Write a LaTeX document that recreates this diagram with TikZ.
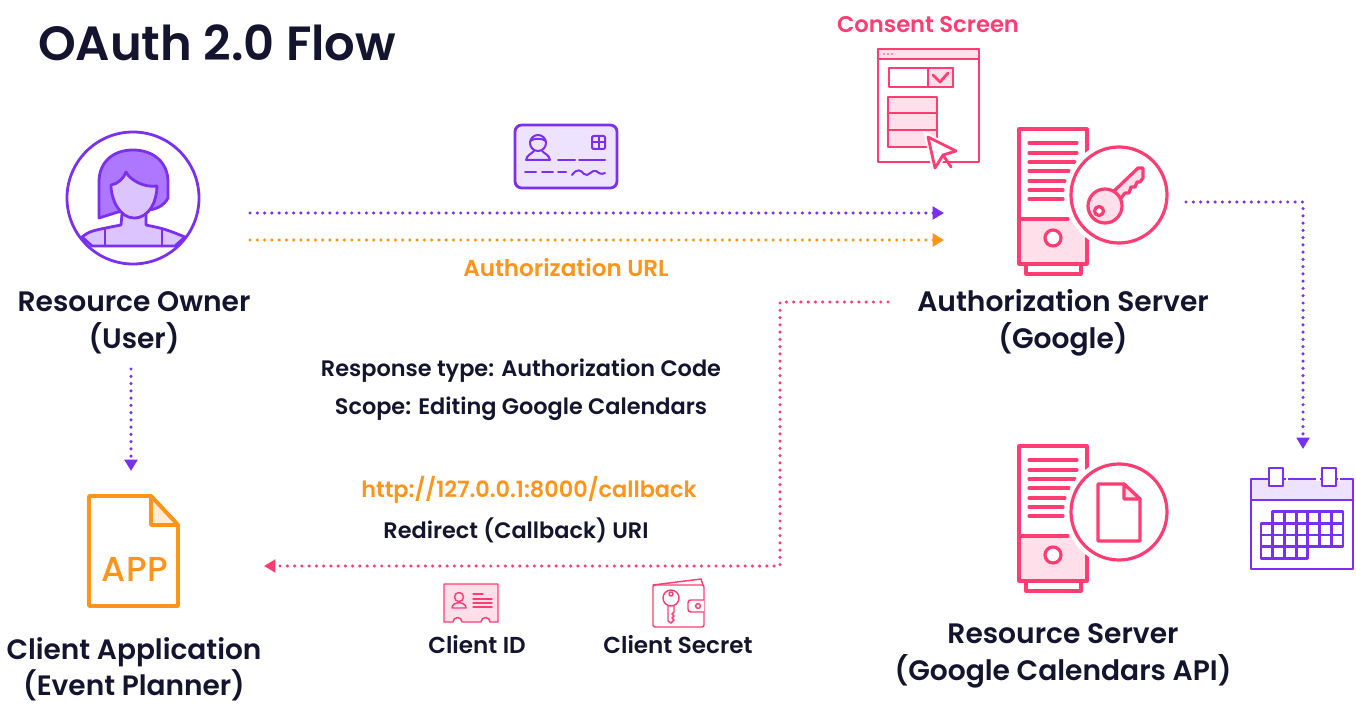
\documentclass[tikz,border=0pt]{standalone}
\usepackage{fontspec}
\setmainfont{Poppins SemiBold}
\newfontfamily\titlefont{Poppins SemiBold}
\newfontfamily\appfont{Poppins Medium}
\usetikzlibrary{arrows.meta}
\definecolor{inkdark}{HTML}{14142E}
\definecolor{purp}{HTML}{7B2FF2}
\definecolor{purphair}{HTML}{AD77FF}
\definecolor{purpskin}{HTML}{DCC5FF}
\definecolor{purppale}{HTML}{EEE3FF}
\definecolor{pinky}{HTML}{FF3D73}
\definecolor{pinkpale}{HTML}{FFE0EA}
\definecolor{orang}{HTML}{FF9419}
\definecolor{orangpale}{HTML}{FFEBD6}
\tikzset{
	big/.style={font=\fontsize{21.1}{28}\selectfont, text=inkdark, align=center},
	small/.style={font=\fontsize{16.8}{20}\selectfont, text=inkdark},
	smallish/.style={font=\fontsize{17.3}{20}\selectfont, text=inkdark},
	flowline/.style={line width=2.6pt, line cap=round, dash pattern=on 0pt off 5.45pt,
		-{Triangle[length=8.5pt,width=9.5pt]}},
	iconpur/.style={draw=purp, line width=2.1pt, line join=round, line cap=round},
	iconpin/.style={draw=pinky, line width=2.4pt, line join=round, line cap=round},
	iconwin/.style={draw=pinky, line width=2.1pt, line join=round, line cap=round},
	iconthin/.style={draw=pinky, line width=1.1pt, line join=round, line cap=round},
	srvbody/.pic={
		\fill [white] (0,0) rectangle (68,135);
		\fill [pinkpale] (0,90) rectangle (68,135);
		\draw [iconpin] (7,135) rectangle (62,145);
		\draw [iconpin] (0,0) rectangle (68,135);
		\draw [iconpin] (0,90) -- (49,90);
		\draw [iconpin, fill=white] (34,109) circle (8);
		\foreach \y/\e in {14/58,24/58,33/56,42/50,52/46,61/44,70/44}
			\draw [iconpin] (10,\y) -- (\e,\y);
		\fill [white] (100,66) circle (54);
		\draw [iconpin, fill=white] (100,66) circle (48);
	},
}
\begin{document}
\begin{tikzpicture}[x=0.75pt,y=-0.75pt]
	\useasboundingbox (0,0) rectangle (1356,706);
	\node (title) at (217,43) [font=\titlefont\fontsize{36}{40}\selectfont, text=inkdark] {OAuth 2.0 Flow};

	% resource owner
	\draw [iconpur, fill=purpskin] (82,237) .. controls (90,231) .. (121,225) -- (122,214) -- (146,214)
		-- (146,225) .. controls (165,229) .. (185,237) -- (175,246) -- (92,246) -- cycle;
	\draw [iconpur] (105,229) -- (105,246) (162,229) -- (162,246);
	\draw [iconpur, fill=purphair] (99,218) -- (99,182) .. controls (99,162) and (113,150) .. (133,150)
		.. controls (153,150) and (168,162) .. (168,182) -- (168,198)
		.. controls (164,206) and (155,210) .. (147,210) -- (118,212) -- cycle;
	\draw [iconpur, fill=purpskin] (111,185) .. controls (118,184) and (124,178) .. (126,172)
		.. controls (130,180) and (144,188) .. (157,186) .. controls (157,200) and (150,218) .. (134,218)
		.. controls (120,218) and (111,200) .. (111,185) -- cycle;
	\node (ownericon) at (133,198) [circle, minimum size=132*0.75pt, draw=purp, line width=2.1pt] {};
	\node (owner) at (134,322.5) [big] {Resource Owner\\(User)};

	% card
	\draw [iconpur, fill=purppale, rounded corners=5pt] (515,125) rectangle (617,188);
	\draw [iconpur, line width=1.5pt] (538,143) circle (8) (530,141) .. controls (534,138) and (542,138) .. (546,141);
	\draw [iconpur, line width=1.5pt] (526,160) .. controls (527,155) and (531,154) .. (534,151) (550,160) .. controls (549,155) and (545,154) .. (542,151) (526,160) -- (550,160);
	\draw [iconpur, line width=1.5pt] (558,160) -- (575,160) (579,160) -- (605,160);
	\draw [iconpur, line width=1.5pt, rounded corners=1pt] (592,136) rectangle (605,149);
	\draw [iconpur, line width=1.5pt] (598.5,136) -- (598.5,149) (592,142.5) -- (605,142.5);
	\foreach \a/\b in {525/536,542/553,558/566}
		\draw [iconpur, line width=1.5pt] (\a,172.5) -- (\b,172.5);
	\draw [iconpur, line width=1.5pt] (572,175) .. controls (577,168) and (581,170) .. (584,174)
		.. controls (588,178) and (592,169) .. (596,171) .. controls (599,173) and (601,175) .. (605,173);

	% consent screen
	\node (consent) at (928,25) [font=\fontsize{17}{20}\selectfont, text=pinky] {Consent Screen};
	\draw [iconwin] (878,49) rectangle (979,162);
	\draw [iconwin, fill=pinkpale] (878,49) rectangle (979,59);
	\foreach \x in {884,888,892}
		\fill [pinky] (\x,54) circle (0.8);
	\draw [iconwin] (889,68) rectangle (953,87);
	\draw [iconwin, fill=pinkpale] (928,68) rectangle (953,87);
	\draw [iconwin] (933,75) -- (940,82) -- (948,73);
	\draw [iconwin, fill=pinkpale] (888,97) rectangle (937,147);
	\draw [iconwin] (888,113) -- (937,113) (888,130) -- (937,130);
	\draw [draw=white, line width=5pt, fill=white] (928,137) -- (956,151) -- (943,155) -- (935,168) -- cycle;
	\draw [iconwin, fill=white] (928,137) -- (956,151) -- (943,155) -- (935,168) -- cycle;
	\draw [iconwin] (943,155) -- (951,167);

	% servers
	\pic at (1019,129) {srvbody};
	\draw [iconpin, fill=pinkpale] (1100,212.5) -- (1113,192) -- (1138,168) -- (1143,168) -- (1143,178) -- (1140,182) -- (1137,182) -- (1135,187) -- (1131,187) -- (1129,193) -- (1125,193) -- (1118,202) -- cycle;
	\draw [iconpin, fill=pinkpale] (1105,206) circle (17);
	\draw [iconpin, fill=white] (1099,211) circle (4.5);
	\node (authsrv) at (1063,323) [big] {Authorization Server\\(Google)};

	\pic at (1019,446) {srvbody};
	\draw [iconpin] (1098,484) -- (1124,484) -- (1140,499) -- (1140,541) -- (1098,541) -- cycle;
	\draw [iconpin, fill=pinkpale] (1124,484) -- (1140,499) -- (1124,499) -- cycle;
	\node (ressrv) at (1063,656) [big] {Resource Server\\(Google Calendars API)};

	% calendar
	\draw [iconpur, fill=purppale] (1251,500) -- (1251,479) -- (1353,479) -- (1353,500) -- cycle;
	\draw [iconpur] (1251,500) rectangle (1353,569);
	\draw [white, line width=3pt] (1286,479) -- (1288,479) (1316,479) -- (1320,479) (1338,479) -- (1340,479);
	\foreach \x in {1269,1322}
		\draw [iconpur, fill=white] (\x,468) rectangle (\x+14,486);
	\foreach \i in {1,...,6} \foreach \j in {0,1,2}
		\draw [iconpur] (1261+11.7*\i,511.5+11.7*\j) rectangle (1261+11.7*\i+11.7,523.2+11.7*\j);
	\foreach \i in {0,...,3} \foreach \j in {1,2,3}
		\draw [iconpur] (1261+11.7*\i,511.5+11.7*\j) rectangle (1261+11.7*\i+11.7,523.2+11.7*\j);

	% app
	\draw [draw=orang, line width=2.9pt, line join=round] (89,496) -- (151,496) -- (178,525) -- (178,606) -- (89,606) -- cycle;
	\draw [draw=orang, line width=2.9pt, line join=round, fill=orangpale] (151,496) -- (178,525) -- (151,525) -- cycle;
	\node (appname) at (135,569) [font=\appfont\addfontfeature{LetterSpace=2}\fontsize{26}{28}\selectfont, text=orang] {APP};
	\node (client) at (134,669) [big, inner sep=0pt, font=\fontsize{21}{27}\selectfont] {Client Application\\(Event Planner)};

	% client id, client secret
	\draw [iconthin, fill=pinkpale] (444,622) -- (444,584) -- (498,584) -- (498,622) -- (490,622)
		arc (0:-180:4.5) -- (462,622) arc (0:-180:4.5) -- cycle;
	\draw [iconthin] (459,597) circle (4.5);
	\draw [iconthin] (452,608) .. controls (452,601) and (466,601) .. (466,608) -- cycle;
	\draw [iconthin] (473,594) -- (483,594);
	\foreach \y in {599,603,607}
		\draw [iconthin] (473,\y) -- (492,\y);
	\node (clientid) at (477,645) [smallish] {Client ID};

	\draw [iconthin, rounded corners=1.5pt] (653,585) rectangle (704,627);
	\draw [iconthin] (653,585) -- (701,579) -- (703,585);
	\draw [iconthin, fill=white, rounded corners=2pt] (704,600) -- (688,600) -- (688,612) -- (704,612);
	\draw [iconthin] (698,606) circle (2.4);
	\draw [iconthin] (671,598) circle (8) (671,594) circle (2);
	\draw [iconthin] (668,606) -- (668,621) -- (671,623) -- (674,620) -- (672,618) -- (674,616) -- (672,614) -- (674,612) -- (674,606);
	\node (clientsec) at (678,645) [smallish] {Client Secret};

	% middle texts
	\node (authurl) at (566,268) [smallish, text=orang] {Authorization URL};
	\node (resptype) at (521,370.5) [small] {Response type: Authorization Code};
	\node (scope) at (521,408.5) [small] {Scope: Editing Google Calendars};
	\node (callback) at (529,490) [small, text=orang] {http://127.0.0.1:8000/callback};
	\node (redirect) at (516,530) [small] {Redirect (Callback) URI};

	% connectors
	\coordinate (toprun) at (250,213);
	\coordinate (topend) at (944,213);
	\coordinate (urlrun) at (250,240);
	\coordinate (urlend) at (944,240);
	\coordinate (backrun) at (888,302);
	\coordinate (backend) at (264,566);
	\coordinate (backmid) at (780,566);
	\coordinate (calrun) at (1186,202);
	\coordinate (calend) at (1303,449);
	\coordinate (downrun) at (131,369);
	\coordinate (downend) at (131,471);
	\draw [flowline, draw=purp] (toprun) -- (topend);
	\draw [flowline, draw=orang] (urlrun) -- (urlend);
	\draw [flowline, draw=pinky] (backrun) -| (backmid) -- (backend);
	\draw [flowline, draw=purp] (calrun) -| (calend);
	\draw [flowline, draw=purp] (downrun) -- (downend);
\end{tikzpicture}
\end{document}
